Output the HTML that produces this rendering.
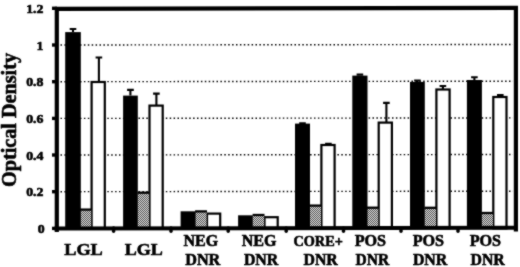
<!DOCTYPE html><html><head><meta charset="utf-8"><title>Optical Density chart</title><style>html,body{margin:0;padding:0;background:#fff;overflow:hidden}svg{display:block}text{font-family:"Liberation Serif","Times New Roman",serif;font-weight:bold;fill:#000;stroke:#000;stroke-width:0.6px;stroke-linejoin:round}</style></head><body>
<svg width="520" height="267" viewBox="0 0 520 267">
<defs><pattern id="g" width="2" height="2" patternUnits="userSpaceOnUse"><rect width="2" height="2" fill="#d6d6d6"/><rect width="1" height="1" fill="#5a5a5a"/><rect x="1" y="1" width="1" height="1" fill="#5a5a5a"/></pattern><filter id="b" x="0" y="0" width="520" height="267" filterUnits="userSpaceOnUse" color-interpolation-filters="sRGB"><feConvolveMatrix order="3" kernelMatrix="1 2 1 2 14 2 1 2 1" divisor="26" edgeMode="duplicate" preserveAlpha="true"/></filter></defs><g filter="url(#b)">
<rect width="520" height="267" fill="#fff"/>
<line x1="60.5" x2="513" y1="191.7" y2="191.2" stroke="#000" stroke-width="1.4" stroke-dasharray="1.5 2.4"/>
<line x1="60.5" x2="513" y1="155.0" y2="154.5" stroke="#000" stroke-width="1.4" stroke-dasharray="1.5 2.4"/>
<line x1="60.5" x2="513" y1="118.4" y2="117.9" stroke="#000" stroke-width="1.4" stroke-dasharray="1.5 2.4"/>
<line x1="60.5" x2="513" y1="81.7" y2="81.2" stroke="#000" stroke-width="1.4" stroke-dasharray="1.5 2.4"/>
<line x1="60.5" x2="513" y1="45.0" y2="44.5" stroke="#000" stroke-width="1.4" stroke-dasharray="1.5 2.4"/>
<rect x="91.6" y="82.0" width="13.2" height="146.4" fill="#fff" stroke="#000" stroke-width="2.2"/>
<rect x="79.7" y="209.6" width="11.5" height="18.8" fill="url(#g)"/>
<path d="M79.7 209.6H91.6" stroke="#000" stroke-width="2.3" fill="none"/>
<rect x="65.2" y="32.1" width="15.6" height="196.3" fill="#000"/>
<path d="M73.0 32.1V29.0M69.7 29.0H76.3" stroke="#000" stroke-width="2.1" fill="none"/>
<path d="M98.9 82.0V57.5M95.6 57.5H102.2" stroke="#000" stroke-width="2.1" fill="none"/>
<rect x="149.5" y="105.6" width="13.2" height="122.8" fill="#fff" stroke="#000" stroke-width="2.2"/>
<rect x="137.6" y="192.7" width="11.5" height="35.7" fill="url(#g)"/>
<path d="M137.6 192.7H149.5" stroke="#000" stroke-width="2.3" fill="none"/>
<rect x="123.1" y="95.6" width="14.7" height="132.8" fill="#000"/>
<path d="M130.4 95.6V89.9M127.1 89.9H133.8" stroke="#000" stroke-width="2.1" fill="none"/>
<path d="M156.4 105.6V93.6M153.1 93.6H159.7" stroke="#000" stroke-width="2.1" fill="none"/>
<rect x="207.0" y="213.6" width="13.2" height="14.8" fill="#fff" stroke="#000" stroke-width="2.2"/>
<rect x="195.1" y="211.4" width="11.5" height="17.0" fill="url(#g)"/>
<path d="M195.1 211.4H207.0" stroke="#000" stroke-width="2.3" fill="none"/>
<rect x="180.6" y="211.3" width="15.0" height="17.1" fill="#000"/>
<rect x="264.5" y="217.2" width="13.2" height="11.2" fill="#fff" stroke="#000" stroke-width="2.2"/>
<rect x="252.6" y="215.0" width="11.5" height="13.4" fill="url(#g)"/>
<path d="M252.6 215.0H264.5" stroke="#000" stroke-width="2.3" fill="none"/>
<rect x="238.1" y="215.3" width="14.7" height="13.1" fill="#000"/>
<rect x="321.4" y="145.0" width="13.2" height="83.4" fill="#fff" stroke="#000" stroke-width="2.2"/>
<rect x="309.5" y="205.6" width="11.5" height="22.8" fill="url(#g)"/>
<path d="M309.5 205.6H321.4" stroke="#000" stroke-width="2.3" fill="none"/>
<rect x="295.0" y="123.6" width="15.0" height="104.8" fill="#000"/>
<path d="M302.5 123.6V123.4M299.2 123.4H305.8" stroke="#000" stroke-width="2.1" fill="none"/>
<path d="M328.4 145.0V143.9M325.1 143.9H331.7" stroke="#000" stroke-width="2.1" fill="none"/>
<rect x="378.7" y="122.6" width="13.2" height="105.8" fill="#fff" stroke="#000" stroke-width="2.2"/>
<rect x="366.8" y="207.7" width="11.5" height="20.7" fill="url(#g)"/>
<path d="M366.8 207.7H378.7" stroke="#000" stroke-width="2.3" fill="none"/>
<rect x="352.3" y="75.6" width="15.2" height="152.8" fill="#000"/>
<path d="M359.9 75.6V74.6M356.6 74.6H363.2" stroke="#000" stroke-width="2.1" fill="none"/>
<path d="M386.4 122.6V102.9M383.1 102.9H389.7" stroke="#000" stroke-width="2.1" fill="none"/>
<rect x="436.4" y="89.5" width="13.2" height="138.9" fill="#fff" stroke="#000" stroke-width="2.2"/>
<rect x="424.5" y="207.8" width="11.5" height="20.6" fill="url(#g)"/>
<path d="M424.5 207.8H436.4" stroke="#000" stroke-width="2.3" fill="none"/>
<rect x="410.0" y="81.9" width="14.8" height="146.5" fill="#000"/>
<path d="M417.4 81.9V80.5M414.1 80.5H420.7" stroke="#000" stroke-width="2.1" fill="none"/>
<path d="M442.9 89.5V86.0M439.6 86.0H446.2" stroke="#000" stroke-width="2.1" fill="none"/>
<rect x="493.3" y="97.0" width="13.2" height="131.4" fill="#fff" stroke="#000" stroke-width="2.2"/>
<rect x="481.4" y="213.0" width="11.5" height="15.4" fill="url(#g)"/>
<path d="M481.4 213.0H493.3" stroke="#000" stroke-width="2.3" fill="none"/>
<rect x="466.9" y="80.0" width="15.0" height="148.4" fill="#000"/>
<path d="M474.4 80.0V77.2M471.1 77.2H477.7" stroke="#000" stroke-width="2.1" fill="none"/>
<path d="M500.3 97.0V95.1M497.0 95.1H503.6" stroke="#000" stroke-width="2.1" fill="none"/>
<path d="M56.8 232V8.8L515.9 7.9V231.5" fill="none" stroke="#000" stroke-width="4.2" stroke-linejoin="miter"/>
<path d="M54.5 228.6L518 227.8" fill="none" stroke="#000" stroke-width="4"/>
<line x1="52" x2="57" y1="228.4" y2="228.4" stroke="#000" stroke-width="3.4"/>
<text x="37.7" y="233.0" font-size="13" textLength="6.9" lengthAdjust="spacingAndGlyphs">0</text>
<line x1="52" x2="57" y1="191.7" y2="191.7" stroke="#000" stroke-width="3.4"/>
<text x="26.2" y="196.3" font-size="13" textLength="17.3" lengthAdjust="spacingAndGlyphs">0.2</text>
<line x1="52" x2="57" y1="155.0" y2="155.0" stroke="#000" stroke-width="3.4"/>
<text x="26.2" y="159.6" font-size="13" textLength="17.3" lengthAdjust="spacingAndGlyphs">0.4</text>
<line x1="52" x2="57" y1="118.4" y2="118.4" stroke="#000" stroke-width="3.4"/>
<text x="26.2" y="123.0" font-size="13" textLength="17.3" lengthAdjust="spacingAndGlyphs">0.6</text>
<line x1="52" x2="57" y1="81.7" y2="81.7" stroke="#000" stroke-width="3.4"/>
<text x="26.2" y="86.3" font-size="13" textLength="17.3" lengthAdjust="spacingAndGlyphs">0.8</text>
<line x1="52" x2="57" y1="45.0" y2="45.0" stroke="#000" stroke-width="3.4"/>
<text x="36.6" y="49.6" font-size="13" textLength="6.9" lengthAdjust="spacingAndGlyphs">1</text>
<line x1="52" x2="57" y1="8.3" y2="8.3" stroke="#000" stroke-width="3.4"/>
<text x="26.2" y="12.9" font-size="13" textLength="17.3" lengthAdjust="spacingAndGlyphs">1.2</text>
<line x1="113.6" x2="113.6" y1="228" y2="231.3" stroke="#000" stroke-width="3.4" stroke-linecap="round"/>
<line x1="171.0" x2="171.0" y1="228" y2="231.3" stroke="#000" stroke-width="3.4" stroke-linecap="round"/>
<line x1="228.2" x2="228.2" y1="228" y2="231.3" stroke="#000" stroke-width="3.4" stroke-linecap="round"/>
<line x1="286.2" x2="286.2" y1="228" y2="231.3" stroke="#000" stroke-width="3.4" stroke-linecap="round"/>
<line x1="343.5" x2="343.5" y1="228" y2="231.3" stroke="#000" stroke-width="3.4" stroke-linecap="round"/>
<line x1="401.0" x2="401.0" y1="228" y2="231.3" stroke="#000" stroke-width="3.4" stroke-linecap="round"/>
<line x1="458.0" x2="458.0" y1="228" y2="231.3" stroke="#000" stroke-width="3.4" stroke-linecap="round"/>
<text x="64.2" y="255.4" font-size="17.6" textLength="38.6" lengthAdjust="spacingAndGlyphs">LGL</text>
<text x="124.7" y="255.4" font-size="17.6" textLength="38.1" lengthAdjust="spacingAndGlyphs">LGL</text>
<text x="183.5" y="246" font-size="16" textLength="34.8" lengthAdjust="spacingAndGlyphs">NEG</text>
<text x="185.2" y="265.3" font-size="16" textLength="35.1" lengthAdjust="spacingAndGlyphs">DNR</text>
<text x="241.7" y="246" font-size="16" textLength="34.8" lengthAdjust="spacingAndGlyphs">NEG</text>
<text x="243.9" y="265.3" font-size="16" textLength="34.4" lengthAdjust="spacingAndGlyphs">DNR</text>
<text x="293.5" y="246" font-size="14" textLength="49.3" lengthAdjust="spacingAndGlyphs">CORE+</text>
<text x="303.5" y="265" font-size="16" textLength="34.3" lengthAdjust="spacingAndGlyphs">DNR</text>
<text x="354.7" y="246" font-size="16" textLength="31.4" lengthAdjust="spacingAndGlyphs">POS</text>
<text x="355.5" y="265.3" font-size="16" textLength="33.6" lengthAdjust="spacingAndGlyphs">DNR</text>
<text x="412.7" y="246" font-size="16" textLength="31.4" lengthAdjust="spacingAndGlyphs">POS</text>
<text x="412.9" y="265.3" font-size="16" textLength="34.4" lengthAdjust="spacingAndGlyphs">DNR</text>
<text x="469.7" y="246" font-size="16" textLength="31.4" lengthAdjust="spacingAndGlyphs">POS</text>
<text x="470.5" y="265.3" font-size="16" textLength="34.3" lengthAdjust="spacingAndGlyphs">DNR</text>
<text transform="translate(15.6,187) rotate(-90)" font-size="20" textLength="134" lengthAdjust="spacingAndGlyphs">Optical Density</text>
</g></svg></body></html>
